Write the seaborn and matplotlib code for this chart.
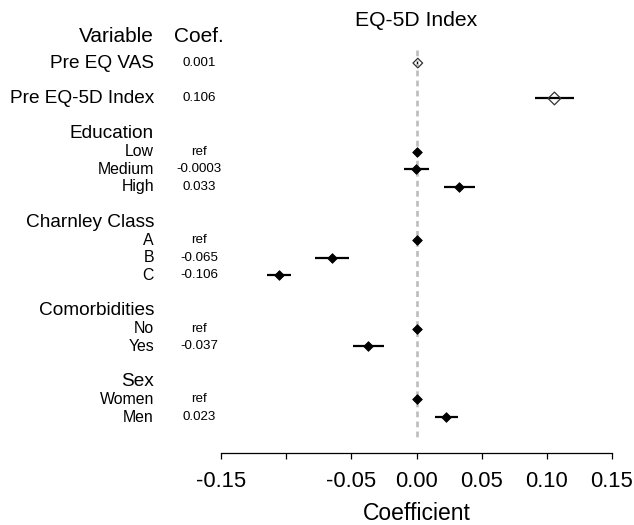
import numpy as np
import pandas as pd
import matplotlib
matplotlib.use("Agg")
import matplotlib.pyplot as plt
import seaborn as sns

# Row labels on the left (row index counted from the top)
label_text = ["Pre EQ VAS", "Pre EQ-5D Index",
              "Education", "Low", "Medium", "High",
              "Charnley Class", "A", "B", "C",
              "Comorbidities", "No", "Yes",
              "Sex", "Women", "Men"]
label_row = [0, 2, 4, 5, 6, 7, 9, 10, 11, 12, 14, 15, 16, 18, 19, 20]
label_kind = ["main", "main", "head", "sub", "sub", "sub", "head", "sub", "sub", "sub",
              "head", "sub", "sub", "head", "sub", "sub"]

# Estimates
coef_row = [0, 2, 5, 6, 7, 10, 11, 12, 15, 16, 19, 20]
coef_text = ["0.001", "0.106", "ref", "-0.0003", "0.033", "ref", "-0.065", "-0.106",
             "ref", "-0.037", "ref", "0.023"]
estimate = [0.001, 0.106, 0.0, -0.0003, 0.033, 0.0, -0.065, -0.106, 0.0, -0.037, 0.0, 0.023]
ci_low = [0.0006, 0.091, np.nan, -0.0097, 0.021, np.nan, -0.078, -0.115, np.nan, -0.049, np.nan, 0.0144]
ci_high = [0.0014, 0.121, np.nan, 0.0095, 0.0446, np.nan, -0.052, -0.0964, np.nan, -0.0248, np.nan, 0.0318]
continuous = [True, True, False, False, False, False, False, False, False, False, False, False]

x_ticks = [-0.15, -0.10, -0.05, 0.00, 0.05, 0.10, 0.15]
x_tick_labels = ["-0.15", "", "-0.05", "0.00", "0.05", "0.10", "0.15"]

df = pd.DataFrame({"row": coef_row, "est": estimate, "lo": ci_low, "hi": ci_high,
                   "cont": continuous})

sns.set_theme(style="white")
plt.rcParams["font.family"] = ["Liberation Sans", "DejaVu Sans"]
plt.rcParams["text.color"] = "black"
plt.rcParams["axes.labelcolor"] = "black"

W, H = 634, 525
fig = plt.figure(figsize=(W / 100, H / 100), dpi=100)
x0, x1 = 221.3, 611.7
top, bot = 45, 453
ax = fig.add_axes([x0 / W, 1 - bot / H, (x1 - x0) / W, (bot - top) / H])
ax.set_xlim(-0.15, 0.15)
ax.set_ylim(22.03, -1.02)

# zero reference line
ax.vlines(0, -0.73, 21.13, colors="#bdbdbd", linestyles=(0, (2.2, 1.6)), linewidth=1.9, zorder=1)

# confidence intervals
ax.hlines(df["row"], df["lo"], df["hi"], colors="black", linewidth=1.6, zorder=2)

# point estimates
filled = df[~df["cont"]]
sns.scatterplot(data=filled, x="est", y="row", marker="D", s=24, color="black",
                edgecolor="black", linewidth=0.6, ax=ax, zorder=3, legend=False)
hollow = df[df["cont"]]
sns.scatterplot(data=hollow, x="est", y="row", marker="D", s=[24, 42],
                facecolor="none", edgecolor="#333333", linewidth=0.9, ax=ax,
                zorder=3, legend=False)

# text columns (pixel layout -> data x)
def px_to_x(px):
    return -0.15 + (px - x0) / (x1 - x0) * 0.30

sizes = {"main": 13.7, "head": 13.7, "sub": 11.4}
for txt, r, k in zip(label_text, label_row, label_kind):
    ax.text(px_to_x(154), r, txt, ha="right", va="center", fontsize=sizes[k],
            color="black", clip_on=False)
for txt, r in zip(coef_text, coef_row):
    ax.text(px_to_x(199.5), r, txt, ha="center", va="center", fontsize=9.6,
            color="black", clip_on=False)
ax.text(px_to_x(154), -1.48, "Variable", ha="right", va="center", fontsize=15,
        color="black", clip_on=False)
ax.text(px_to_x(199), -1.48, "Coef.", ha="center", va="center", fontsize=15,
        color="black", clip_on=False)

fig.text(416.5 / W, 1 - 20 / H, "EQ-5D Index", ha="center", va="center", fontsize=15.2,
         color="black")

# axis styling
for s in ["top", "right", "left"]:
    ax.spines[s].set_visible(False)
ax.spines["bottom"].set_color("black")
ax.spines["bottom"].set_linewidth(0.9)
ax.set_yticks([])
ax.set_xticks(x_ticks)
ax.set_xticklabels(x_tick_labels)
ax.tick_params(axis="x", bottom=True, length=4.5, width=0.9, color="black",
               labelsize=15.8, pad=8.5, labelcolor="black")
ax.set_xlabel("Coefficient", fontsize=16.5, labelpad=7.5, color="black")
ax.set_ylabel("")

fig.savefig("out.png", dpi=100)
